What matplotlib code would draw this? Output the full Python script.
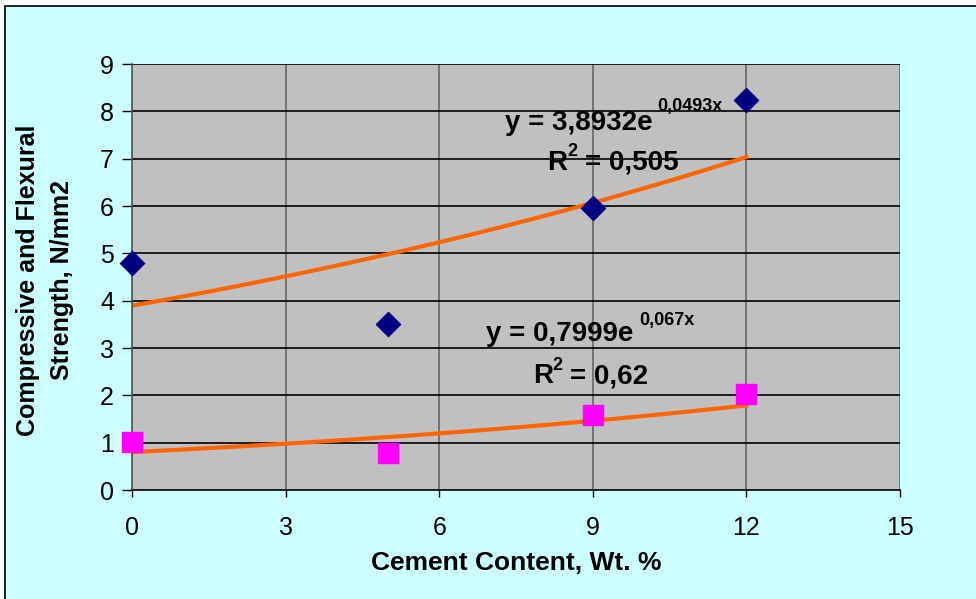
import numpy as np
import matplotlib
matplotlib.use("Agg")
import matplotlib.pyplot as plt
from matplotlib.patches import Rectangle

plt.rcParams['font.family'] = ['Liberation Sans', 'DejaVu Sans']

cement = [0, 5, 9, 12]
compressive = [4.8, 3.5, 5.95, 8.25]
flexural = [1.02, 0.78, 1.58, 2.03]

comp_a, comp_b = 3.8932, 0.0493
flex_a, flex_b = 0.7999, 0.067

x_ticks = [0, 3, 6, 9, 12, 15]
y_ticks = list(range(0, 10))

W, H = 976, 599
fig = plt.figure(figsize=(W / 100, H / 100), dpi=100, facecolor='white')

# chart frame
frame = Rectangle((5 / W, -0.05), 1.1, 1 - 6 / H + 0.05,
                  transform=fig.transFigure, facecolor='#CCFFFF',
                  edgecolor='black', linewidth=1.2, zorder=-10)
fig.patches.append(frame)

ax_left, ax_right, ax_top, ax_bottom = 132, 900, 64, 490
ax = fig.add_axes([ax_left / W, 1 - ax_bottom / H,
                   (ax_right - ax_left) / W, (ax_bottom - ax_top) / H])
ax.set_zorder(5)
ax.set_facecolor('#C0C0C0')
ax.set_xlim(0, 15)
ax.set_ylim(0, 9)
ax.set_xticks(x_ticks)
ax.set_yticks(y_ticks)
ax.tick_params(axis='both', labelsize=18, direction='out', width=1,
               colors='black')
ax.tick_params(axis='x', pad=14, length=5)
ax.tick_params(axis='y', pad=6, length=7)
for x in x_ticks[1:]:
    ax.axvline(x, color='#6E6E6E', linewidth=1.3, zorder=1)
for y in y_ticks[1:]:
    ax.axhline(y, color='black', linewidth=1.2, zorder=1)
for s in ['top', 'right']:
    ax.spines[s].set_visible(False)
ax.spines['left'].set_color('#505050')
ax.spines['bottom'].set_color('black')
ax.spines['left'].set_linewidth(1.2)
ax.spines['bottom'].set_linewidth(1.2)

# exponential trend lines
xs = np.linspace(0, 12, 200)
ax.plot(xs, comp_a * np.exp(comp_b * xs), color='#FF6600', linewidth=3, zorder=2)
ax.plot(xs, flex_a * np.exp(flex_b * xs), color='#FF6600', linewidth=3, zorder=2)

ax.scatter(cement, compressive, marker='D', s=150, color='#000080', zorder=3,
           clip_on=False)
ax.scatter(cement, flexural, marker='s', s=210, color='#FF00FF', zorder=3,
           clip_on=False)

ax.set_xlabel('Cement Content, Wt. %', fontsize=19, fontweight='bold')
ax.xaxis.label.set_va('center')
ax.xaxis.set_label_coords(0.5, (ax_bottom - 563) / (ax_bottom - ax_top))
ax.set_ylabel('Compressive and Flexural\nStrength, N/mm2', fontsize=18,
              fontweight='bold', linespacing=1.5)
ax.yaxis.label.set_va('center')
ax.yaxis.set_label_coords((45 - ax_left) / (ax_right - ax_left),
                          (ax_bottom - 280) / (ax_bottom - ax_top))


def ftext(px, py, s, size):
    fig.text(px / W, 1 - py / H, s, fontsize=size, fontweight='bold',
             va='center', ha='left', zorder=10)


ftext(505, 123, 'y = 3,8932e', 20)
ftext(657, 106, '0,0493x', 13)
ftext(547, 163, 'R', 20)
ftext(567, 152, '2', 13)
ftext(585, 163, '= 0,505', 20)

ftext(486, 334, 'y = 0,7999e', 20)
ftext(639, 320, '0,067x', 13)
ftext(533, 376, 'R', 20)
ftext(552, 365, '2', 13)
ftext(570, 376, '= 0,62', 20)

fig.savefig('out.png', dpi=100, facecolor=fig.get_facecolor())
